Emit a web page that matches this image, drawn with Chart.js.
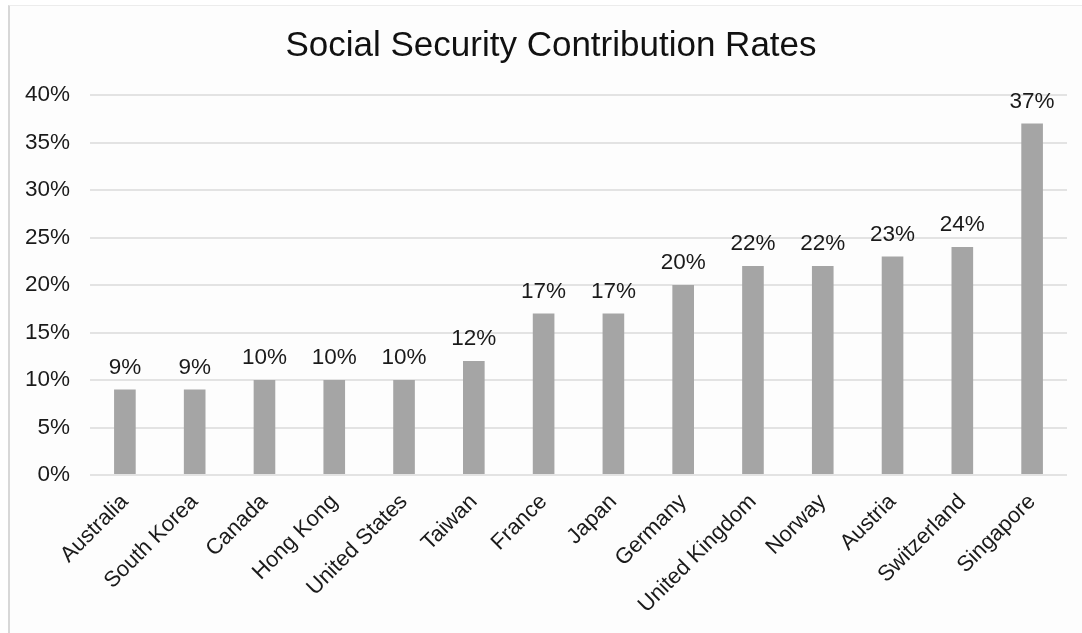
<!DOCTYPE html>
<html>
<head>
<meta charset="utf-8">
<script src="https://cdn.jsdelivr.net/npm/chart.js@4/dist/chart.umd.min.js"></script>
<style>
  html, body { margin: 0; padding: 0; background: #ffffff; }
  body { width: 1082px; height: 633px; position: relative; overflow: hidden; }
  #frame { position: absolute; left: 8px; top: 5px; width: 1074px; height: 628px;
           border-left: 2px solid #d8d8d8; border-top: 1px solid #ececec; background: #fdfdfd; }
  #c { position: absolute; left: 10px; top: 6px; }
</style>
</head>
<body>
<div id="frame"></div>
<canvas id="c" width="1072" height="627"></canvas>
<script>
const titleText = 'Social Security Contribution Rates';
const categories = ['Australia', 'South Korea', 'Canada', 'Hong Kong', 'United States', 'Taiwan', 'France', 'Japan', 'Germany', 'United Kingdom', 'Norway', 'Austria', 'Switzerland', 'Singapore'];
const rates = [9, 9, 10, 10, 10, 12, 17, 17, 20, 22, 22, 23, 24, 37];
const yTickMin = 0;
const yTickMax = 40;
const yTickStep = 5;

const FONT = "'Liberation Sans', Arial, sans-serif";

const valueLabels = {
  id: 'valueLabels',
  afterDatasetsDraw(chart) {
    const ctx = chart.ctx;
    const meta = chart.getDatasetMeta(0);
    ctx.save();
    ctx.font = '22.5px ' + FONT;
    ctx.fillStyle = '#1a1a1a';
    ctx.textAlign = 'center';
    ctx.textBaseline = 'alphabetic';
    meta.data.forEach((bar, i) => {
      ctx.fillText(rates[i] + '%', bar.x, bar.y - 16);
    });
    ctx.restore();
  }
};

// Title drawn centred on the frame (slightly right of canvas centre, as in the original)
const frameTitle = {
  id: 'frameTitle',
  afterDraw(chart) {
    const ctx = chart.ctx;
    ctx.save();
    ctx.font = '35px ' + FONT;
    ctx.fillStyle = '#111111';
    ctx.textAlign = 'center';
    ctx.textBaseline = 'middle';
    ctx.fillText(titleText, 541, 40);
    ctx.restore();
  }
};

new Chart(document.getElementById('c'), {
  type: 'bar',
  data: {
    labels: categories,
    datasets: [{
      data: rates,
      backgroundColor: '#a5a5a5',
      borderWidth: 0,
      barPercentage: 0.31,
      categoryPercentage: 1.0
    }]
  },
  options: {
    responsive: false,
    animation: false,
    devicePixelRatio: 1,
    layout: { padding: { left: 0, right: 15, top: 89, bottom: 0 } },
    plugins: {
      legend: { display: false },
      tooltip: { enabled: false },
      title: { display: false }
    },
    scales: {
      x: {
        grid: { display: false },
        border: { display: false },
        ticks: {
          color: '#1a1a1a',
          font: { family: FONT, size: 22 },
          minRotation: 45,
          maxRotation: 45,
          autoSkip: false,
          padding: 6
        },
        afterFit(scale) { scale.height = 158; }
      },
      y: {
        min: yTickMin,
        max: yTickMax,
        grid: { color: '#e3e3e3', lineWidth: 2, drawTicks: false },
        border: { display: false },
        ticks: {
          stepSize: yTickStep,
          color: '#1a1a1a',
          font: { family: FONT, size: 22.5 },
          padding: 20,
          callback: v => v + '%'
        },
        afterFit(scale) { scale.width = 80; }
      }
    }
  },
  plugins: [valueLabels, frameTitle]
});
</script>
</body>
</html>
